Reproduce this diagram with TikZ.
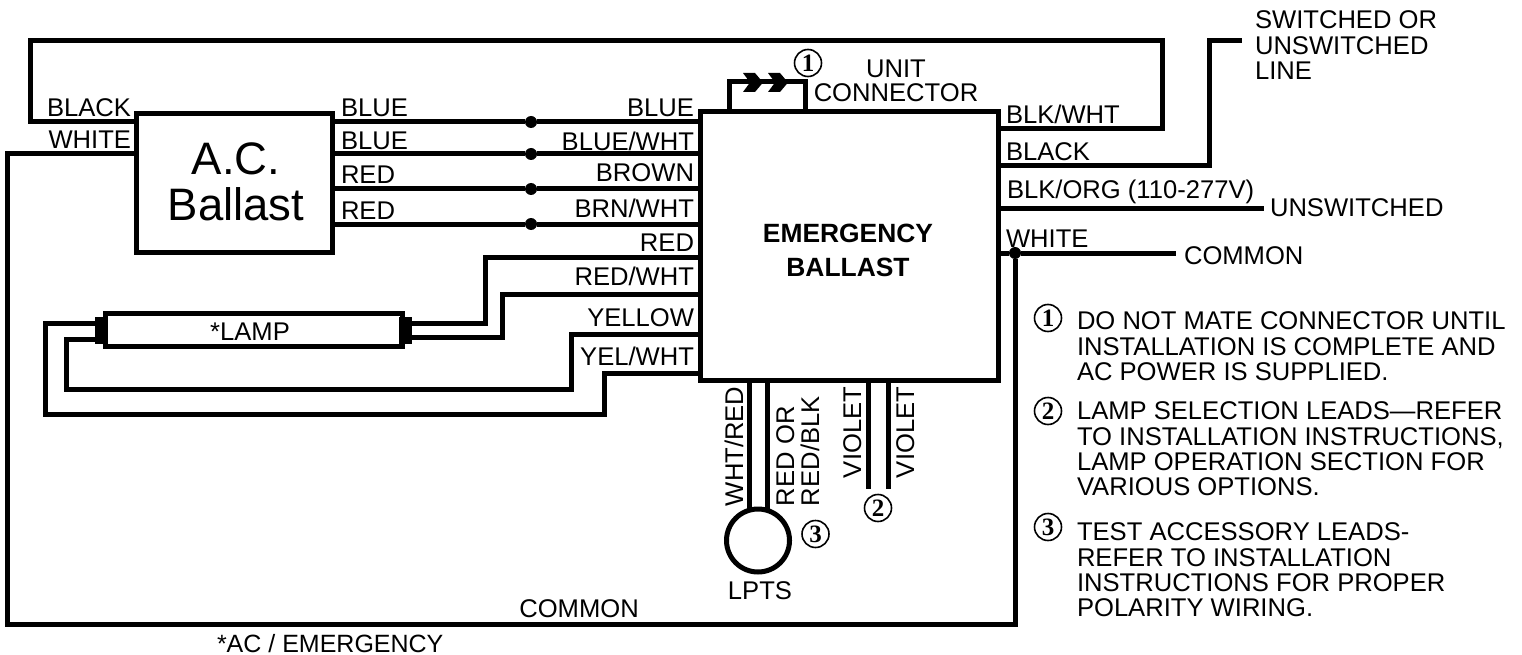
\documentclass[tikz,border=0pt]{standalone}
\usepackage{fontspec}
\setmainfont{Liberation Sans}
\newfontfamily\numfont{Liberation Serif}
\tikzset{
  wire/.style={line width=5pt},
  box/.style={draw, line width=5pt, outer sep=0pt, inner sep=0pt},
  dot/.style={circle, fill, minimum size=12pt, inner sep=0pt, outer sep=0pt},
  lbl/.style={inner sep=0pt, outer sep=0pt, font=\fontsize{25.6}{25.3}\selectfont, align=left},
  lblw/.style={lbl, anchor=base west},
  lble/.style={lbl, anchor=base east},
  lbltop/.style={lbl, anchor=north west},
  lblup/.style={lbl, rotate=90, anchor=base west},
  circnum/.style={circle, draw, line width=1.6pt, minimum size=27pt, inner sep=0pt, outer sep=0pt, font=\numfont\bfseries\fontsize{25}{25}\selectfont},
  lampcap/.style={fill, minimum width=13pt, minimum height=27pt, inner sep=0pt, outer sep=0pt},
}
\begin{document}
\begin{tikzpicture}[x=1pt, y=-1pt]
  \useasboundingbox (0,0) rectangle (1522,655);

  % boxes
  \node[box, minimum width=196pt, minimum height=139pt] (acballast) at (234,183) {};
  \node[box, minimum width=298pt, minimum height=268pt] (emerg) at (849,246) {};
  \node[box, minimum width=297pt, minimum height=33pt] (lamp) at (253.5,329.5) {};
  \node[lampcap] (lampl) at (101.5,330) {};
  \node[lampcap] (lampr) at (405,330) {};
  \node[circle, draw, line width=5pt, minimum size=63pt, inner sep=0pt, outer sep=0pt] (lpts) at (758,540.5) {};

  % bend points and free ends
  \coordinate (blacka) at (30,122);
  \coordinate (blackb) at (30,41);
  \coordinate (blackc) at (1162,41);
  \coordinate (blackd) at (1162,129);
  \coordinate (whitea) at (7,154);
  \coordinate (whiteb) at (7,624);
  \coordinate (linea) at (1209,166);
  \coordinate (lineb) at (1209,41);
  \coordinate (linec) at (1242,41);
  \coordinate (unsw) at (1264,208);
  \coordinate (comm) at (1176,253);
  \coordinate (reda) at (485,257);
  \coordinate (redb) at (485,323);
  \coordinate (redwa) at (502,294);
  \coordinate (redwb) at (502,337);
  \coordinate (yela) at (571,334);
  \coordinate (yelb) at (571,389);
  \coordinate (yelc) at (66,389);
  \coordinate (yeld) at (66,339);
  \coordinate (ywa) at (604,373);
  \coordinate (ywb) at (604,414);
  \coordinate (ywc) at (45,414);
  \coordinate (ywd) at (45,323);
  \coordinate (conna) at (729,82);
  \coordinate (connb) at (805,82);
  \coordinate (vioa) at (868,489);
  \coordinate (viob) at (888,489);

  % junction dots
  \node[dot] (blue1) at (531,122) {};
  \node[dot] (blue2) at (531,154) {};
  \node[dot] (red1) at (531,189) {};
  \node[dot] (red2) at (531,224) {};
  \node[dot] (commdot) at (1015,253) {};

  % wires
  \draw[wire] (acballast.west |- blacka) -- (blacka) -- (blackb) -- (blackc) -- (blackd) -- (emerg.east |- blackd);
  \draw[wire] (acballast.west |- whitea) -- (whitea) -- (whiteb) -- (commdot |- whiteb) -- (commdot);
  \draw[wire] (acballast.east |- blue1) -- (blue1) -- (emerg.west |- blue1);
  \draw[wire] (acballast.east |- blue2) -- (blue2) -- (emerg.west |- blue2);
  \draw[wire] (acballast.east |- red1) -- (red1) -- (emerg.west |- red1);
  \draw[wire] (acballast.east |- red2) -- (red2) -- (emerg.west |- red2);
  \draw[wire] (emerg.east |- linea) -- (linea) -- (lineb) -- (linec);
  \draw[wire] (emerg.east |- unsw) -- (unsw);
  \draw[wire] (emerg.east |- comm) -- (commdot) -- (comm);
  \draw[wire] (emerg.west |- reda) -- (reda) -- (redb) -- (lampr.east |- redb);
  \draw[wire] (emerg.west |- redwa) -- (redwa) -- (redwb) -- (lampr.east |- redwb);
  \draw[wire] (emerg.west |- yela) -- (yela) -- (yelb) -- (yelc) -- (yeld) -- (lampl.west |- yeld);
  \draw[wire] (emerg.west |- ywa) -- (ywa) -- (ywb) -- (ywc) -- (ywd) -- (lampl.west |- ywd);
  \draw[wire] (emerg.north -| conna) -- (conna) -- (connb) -- (emerg.north -| connb);
  \draw[wire] (emerg.south -| lpts.center) ++(-9,0) -- ++(0,129);
  \draw[wire] (emerg.south -| lpts.center) ++(9,0) -- ++(0,129);
  \draw[wire] (emerg.south -| vioa) -- (vioa);
  \draw[wire] (emerg.south -| viob) -- (viob);

  % connector halves
  \fill (743,73) -- (755,73) -- (763,82.5) -- (755,92) -- (743,92) -- (750,82.5) -- cycle;
  \fill (768,73) -- (780,73) -- (788,82.5) -- (780,92) -- (768,92) -- (775,82.5) -- cycle;

  % labels, ballast side
  \node[lble] (lblack) at (131,117) {BLACK};
  \node[lble] (lwhite) at (131,149) {WHITE};
  \node[lblw] (lblue1) at (341,117) {BLUE};
  \node[lblw] (lblue2) at (341,150) {BLUE};
  \node[lblw] (lred1) at (341,184) {RED};
  \node[lblw] (lred2) at (341,219) {RED};
  \node[lble] (lblue3) at (694,117) {BLUE};
  \node[lble] (lbluew) at (694,151) {BLUE/WHT};
  \node[lble] (lbrown) at (694,182) {BROWN};
  \node[lble] (lbrnw) at (694,217) {BRN/WHT};
  \node[lble] (lred3) at (694,251) {RED};
  \node[lble] (lredw) at (694,285) {RED/WHT};
  \node[lble] (lyel) at (694,326) {YELLOW};
  \node[lble] (lyelw) at (694,365) {YEL/WHT};

  % labels, line side
  \node[lblw] (lbkw) at (1006,124) {BLK/WHT};
  \node[lblw] (lblk) at (1006,161) {BLACK};
  \node[lblw] (lbko) at (1007,199) {BLK/ORG (110-277V)};
  \node[lblw] (lwht) at (1006,247) {WHITE};
  \node[lbltop] (lswl) at (1255,11) {SWITCHED OR\\UNSWITCHED\\LINE};
  \node[lblw] (lunsw) at (1270,216) {UNSWITCHED};
  \node[lblw] (lcomm) at (1184,264) {COMMON};
  \node[lbl, align=center, anchor=north, font=\fontsize{25.6}{23.5}\selectfont] (lunit) at (896,60) {UNIT\\CONNECTOR};

  % box texts
  \node[lbl, align=center, font=\fontsize{45.5}{46}\selectfont] (tacb) at (236,181.5) {A.C.\\Ballast};
  \node[lbl, align=center, font=\bfseries\fontsize{26.4}{34}\selectfont] (temerg) at (848,250) {EMERGENCY\\BALLAST};
  \node[lbl] (tlamp) at (250,332) {*LAMP};

  % labels, lower leads
  \node[lblup] (lwhtr) at (743,506) {WHT/RED};
  \node[lblup] (lredor) at (794,506) {RED OR};
  \node[lblup] (lredb) at (819,506) {RED/BLK};
  \node[lblup] (lvio1) at (861,478) {VIOLET};
  \node[lblup] (lvio2) at (914,478) {VIOLET};
  \node[lbl] (llpts) at (760,591) {LPTS};
  \node[lbl] (lcomm2) at (579,609) {COMMON};
  \node[lblw, font=\fontsize{25}{25}\selectfont] (lacem) at (217,652) {*AC / EMERGENCY};

  % circled numbers
  \node[circnum] (num1) at (808,63) {1};
  \node[circnum] (num2) at (878,508) {2};
  \node[circnum] (num3) at (815.5,534) {3};
  \node[circnum] (note1) at (1048,318) {1};
  \node[circnum] (note2) at (1048,411) {2};
  \node[circnum] (note3) at (1048,527) {3};

  % notes
  \node[lbltop] (tnote1) at (1077,312) {DO NOT MATE CONNECTOR UNTIL\\INSTALLATION IS COMPLETE AND\\AC POWER IS SUPPLIED.};
  \node[lbltop] (tnote2) at (1077,402) {LAMP SELECTION LEADS—REFER\\TO INSTALLATION INSTRUCTIONS,\\LAMP OPERATION SECTION FOR\\VARIOUS OPTIONS.};
  \node[lbltop] (tnote3) at (1077,523) {TEST ACCESSORY LEADS-\\REFER TO INSTALLATION\\INSTRUCTIONS FOR PROPER\\POLARITY WIRING.};
\end{tikzpicture}
\end{document}
